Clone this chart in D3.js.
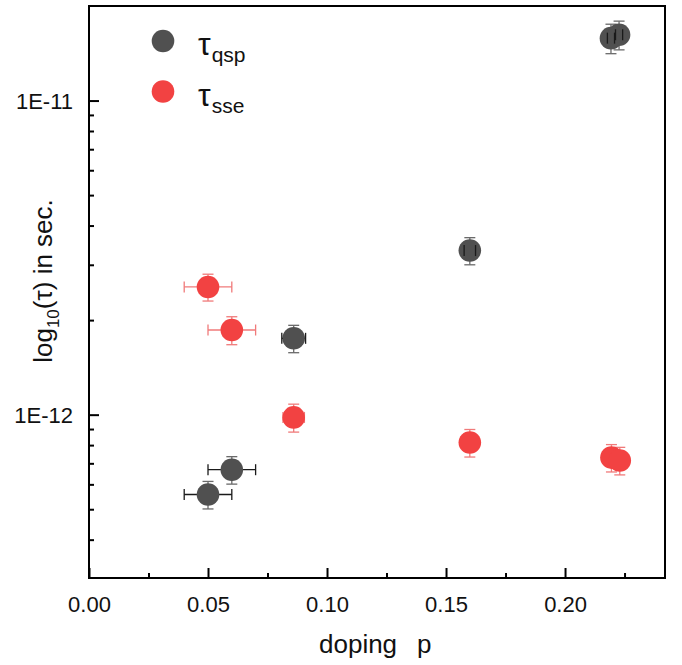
<!DOCTYPE html>
<html>
<head>
<meta charset="utf-8">
<script src="https://cdn.jsdelivr.net/npm/d3@7"></script>
<style>
  body { margin: 0; background: #fff; }
  text { font-family: "Liberation Sans", Arial, sans-serif; }
</style>
</head>
<body>
<svg id="chart" width="682" height="665"></svg>
<script>
// tau_qsp series
const dopingQsp = [0.05, 0.06, 0.086, 0.16, 0.2193, 0.2227];
const tauQsp = [5.57e-13, 6.68e-13, 1.75e-12, 3.33e-12, 1.58e-11, 1.62e-11];
const dopingErrQsp = [0.01, 0.01, 0.005, 0.0024, 0.0015, 0.0015];
const tauErrQsp = [5.6e-14, 6.7e-14, 1.75e-13, 3.3e-13, 1.7e-12, 1.7e-12];

// tau_sse series
const dopingSse = [0.05, 0.06, 0.086, 0.16, 0.2195, 0.223];
const tauSse = [2.55e-12, 1.86e-12, 9.8e-13, 8.15e-13, 7.3e-13, 7.15e-13];
const dopingErrSse = [0.01, 0.01, 0.0045, 0.001, 0.001, 0.001];
const tauErrSse = [2.5e-13, 1.9e-13, 1.0e-13, 8.2e-14, 7.3e-14, 7.2e-14];

const xMajor = [0, 0.05, 0.10, 0.15, 0.20];
const xMinor = [0.025, 0.075, 0.125, 0.175, 0.225];
const yMajor = [1e-12, 1e-11];
const yMinor = [4e-13, 5e-13, 6e-13, 7e-13, 8e-13, 9e-13,
  2e-12, 3e-12, 4e-12, 5e-12, 6e-12, 7e-12, 8e-12, 9e-12];

const margin = { top: 6, right: 17, bottom: 87, left: 89 };
const width = 682 - margin.left - margin.right;
const height = 665 - margin.top - margin.bottom;

const x = d3.scaleLinear().domain([0, 0.242]).range([0, width]);
const y = d3.scaleLog().domain([3.02e-13, 2.0e-11]).range([height, 0]);

const svg = d3.select("#chart")
  .append("g")
  .attr("transform", "translate(" + margin.left + "," + margin.top + ")");

// axes, ticks pointing inward
const xAxis = svg.append("g").attr("transform", "translate(0," + height + ")")
  .call(d3.axisBottom(x).tickValues(xMajor).tickSizeInner(-10).tickSizeOuter(0)
    .tickPadding(18).tickFormat(d3.format(".2f")));
const xAxisMinor = svg.append("g").attr("transform", "translate(0," + height + ")")
  .call(d3.axisBottom(x).tickValues(xMinor).tickSizeInner(-5).tickSizeOuter(0).tickFormat(""));
const yAxis = svg.append("g")
  .call(d3.axisLeft(y).tickValues(yMajor).tickSizeInner(-10).tickSizeOuter(0)
    .tickPadding(16).tickFormat(d => "1E" + Math.round(Math.log10(d))));
const yAxisMinor = svg.append("g")
  .call(d3.axisLeft(y).tickValues(yMinor).tickSizeInner(-5).tickSizeOuter(0).tickFormat(""));

[xAxis, xAxisMinor, yAxis, yAxisMinor].forEach(a => {
  a.select(".domain").remove();
  a.selectAll("line").attr("stroke", "#000").attr("stroke-width", 2);
  a.selectAll("text").attr("font-size", 22).attr("fill", "#111")
    .style("font-family", "'Liberation Sans', Arial, sans-serif");
});
yAxis.selectAll("text").attr("dy", "0.35em");

// frame
svg.append("rect")
  .attr("width", width).attr("height", height)
  .attr("fill", "none").attr("stroke", "#000").attr("stroke-width", 2);

// series drawing
function series(xs, ys, xe, ye, fill, barV, barH, capsOnTop) {
  const pts = xs.map((d, i) => ({ x: d, y: ys[i], xe: xe[i], ye: ye[i] }));
  const g = svg.append("g");
  const under = g.append("g");
  const marks = g.append("g");
  const over = g.append("g");
  const capLayer = capsOnTop ? over : under;
  pts.forEach(d => {
    under.append("line")
      .attr("x1", x(d.x)).attr("x2", x(d.x))
      .attr("y1", y(d.y - d.ye)).attr("y2", y(d.y + d.ye))
      .attr("stroke", barV).attr("stroke-width", 1.3);
    under.append("line")
      .attr("x1", x(d.x - d.xe)).attr("x2", x(d.x + d.xe))
      .attr("y1", y(d.y)).attr("y2", y(d.y))
      .attr("stroke", barH).attr("stroke-width", 1.3);
    [d.y - d.ye, d.y + d.ye].forEach(v => {
      under.append("line")
        .attr("x1", x(d.x) - 5.5).attr("x2", x(d.x) + 5.5)
        .attr("y1", y(v)).attr("y2", y(v))
        .attr("stroke", barV).attr("stroke-width", 1.3);
    });
    [d.x - d.xe, d.x + d.xe].forEach(v => {
      capLayer.append("line")
        .attr("x1", x(v)).attr("x2", x(v))
        .attr("y1", y(d.y) - 5.5).attr("y2", y(d.y) + 5.5)
        .attr("stroke", barH).attr("stroke-width", 1.3);
    });
  });
  marks.selectAll("circle").data(pts).enter().append("circle")
    .attr("cx", d => x(d.x)).attr("cy", d => y(d.y)).attr("r", 11.3)
    .attr("fill", fill);
}

series(dopingQsp, tauQsp, dopingErrQsp, tauErrQsp, "#505050", "#6a6a6a", "#1a1a1a", true);
series(dopingSse, tauSse, dopingErrSse, tauErrSse, "#f24242", "#f07a7a", "#f07a7a", false);

// legend
const legend = [
  { name: "qsp", color: "#505050" },
  { name: "sse", color: "#f24242" }
];
const lg = svg.append("g").attr("transform", "translate(74,35)");
legend.forEach((d, i) => {
  const row = lg.append("g").attr("transform", "translate(0," + (i * 50.5) + ")");
  row.append("circle").attr("r", 11.3).attr("fill", d.color);
  const t = row.append("text").attr("x", 35).attr("y", 14).attr("font-size", 32).attr("fill", "#111");
  t.append("tspan").text("τ");
  t.append("tspan").attr("font-size", 21).attr("dy", 7).attr("dx", 1).text(d.name);
});

// axis titles
const xl = svg.append("text")
  .attr("x", 230).attr("y", height + 75)
  .attr("font-size", 26).attr("fill", "#111");
xl.append("tspan").text("doping");
xl.append("tspan").attr("dx", 20).text("p");

const yl = svg.append("text")
  .attr("transform", "translate(-37," + (height / 2 - 11) + ") rotate(-90)")
  .attr("text-anchor", "middle").attr("font-size", 26).attr("fill", "#111");
yl.append("tspan").text("log");
yl.append("tspan").attr("font-size", 17).attr("dy", 7).text("10");
yl.append("tspan").attr("dy", -7).text("(τ) in sec.");
</script>
</body>
</html>
